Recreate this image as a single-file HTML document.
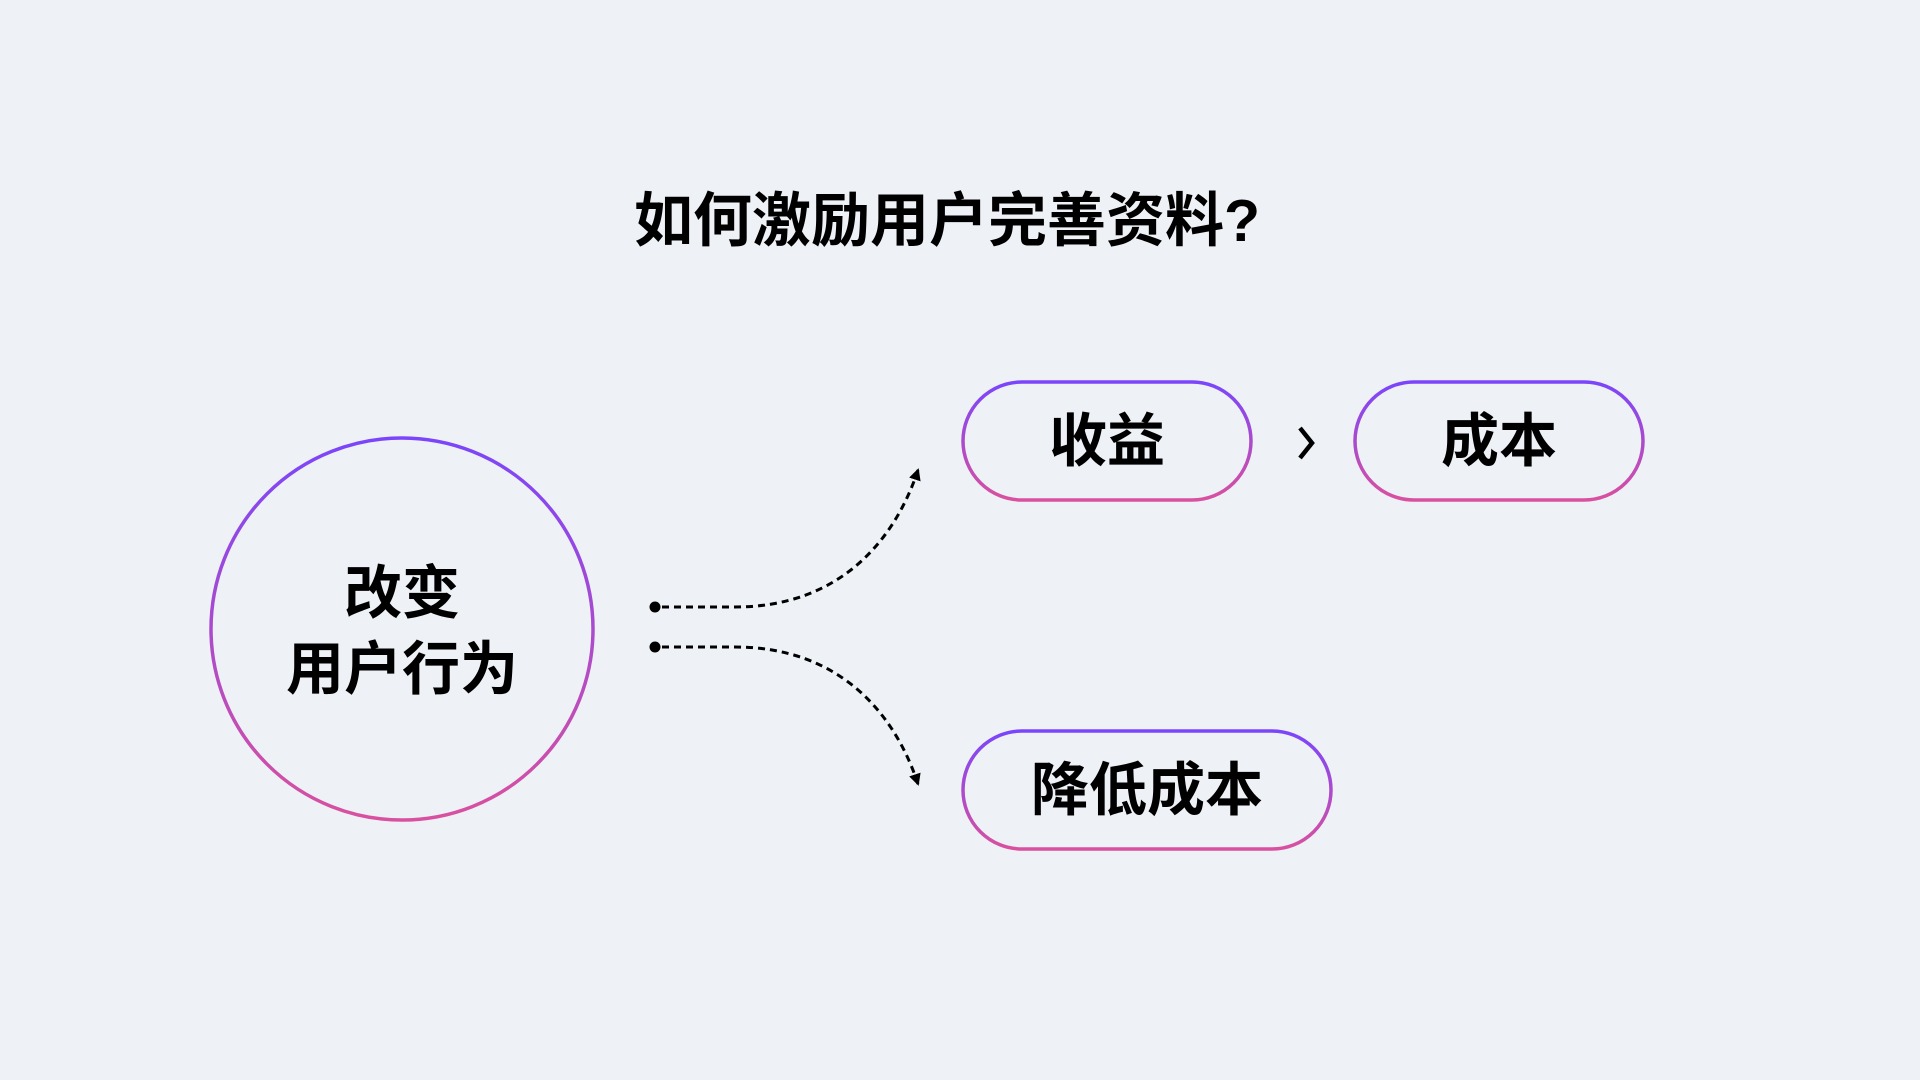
<!DOCTYPE html>
<html><head><meta charset="utf-8"><style>
html,body{margin:0;padding:0;background:#eef2f7;}
svg{display:block}
text{font-family:"Liberation Sans","Noto Sans CJK SC",sans-serif;font-weight:700;fill:#000}
</style></head><body>
<svg width="1920" height="1080" viewBox="0 0 1920 1080" xmlns="http://www.w3.org/2000/svg">
<defs>
<linearGradient id="g" x1="0" y1="0" x2="0" y2="1">
<stop offset="0" stop-color="#7b45fb"/><stop offset="1" stop-color="#d9509f"/>
</linearGradient>
<marker id="ar" markerWidth="14" markerHeight="14" refX="10" refY="6" orient="auto" markerUnits="userSpaceOnUse">
<path d="M0,0 L12,6 L0,12 z" fill="#000"/>
</marker>
</defs>
<rect width="1920" height="1080" fill="#eef2f7"/>
<text x="947" y="241" font-size="59" text-anchor="middle">如何激励用户完善资料?</text>
<circle cx="402" cy="629" r="191" fill="none" stroke="url(#g)" stroke-width="3.5"/>
<text x="402" y="613" font-size="58" text-anchor="middle">改变</text>
<text x="402" y="689" font-size="58" text-anchor="middle">用户行为</text>
<rect x="963" y="382" width="288" height="118" rx="59" fill="none" stroke="url(#g)" stroke-width="3.5"/>
<text x="1107" y="461" font-size="58" text-anchor="middle">收益</text>
<path d="M1300,428 L1312,443 L1300,458" fill="none" stroke="#000" stroke-width="4.5" stroke-linejoin="miter"/>
<rect x="1355" y="382" width="288" height="118" rx="59" fill="none" stroke="url(#g)" stroke-width="3.5"/>
<text x="1499" y="461" font-size="58" text-anchor="middle">成本</text>
<rect x="963" y="731" width="368" height="118" rx="59" fill="none" stroke="url(#g)" stroke-width="3.5"/>
<text x="1147" y="810" font-size="58" text-anchor="middle">降低成本</text>
<circle cx="655" cy="607" r="5.5" fill="#000"/>
<circle cx="655" cy="647" r="5.5" fill="#000"/>
<path d="M662,607 L735,607 C840,607 895,540 918,470" fill="none" stroke="#000" stroke-width="3" stroke-dasharray="7,5" marker-end="url(#ar)"/>
<path d="M662,647 L735,647 C840,647 895,714 918,784" fill="none" stroke="#000" stroke-width="3" stroke-dasharray="7,5" marker-end="url(#ar)"/>
</svg>
</body></html>
